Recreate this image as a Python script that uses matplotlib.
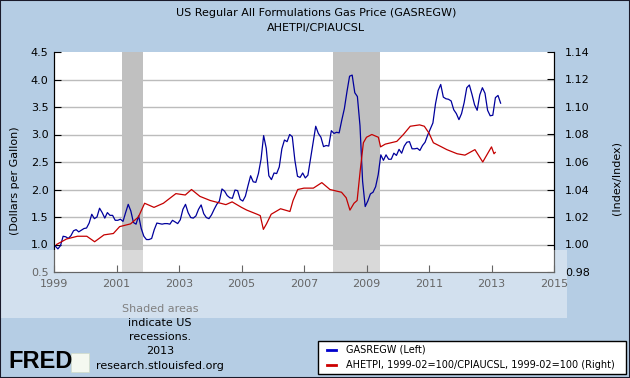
import matplotlib
matplotlib.use('Agg')
import matplotlib.pyplot as plt
from matplotlib.patches import Rectangle
import numpy as np

# GASREGW, monthly (dollars per gallon), Jan 1999 - Apr 2013
gas_1999 = [0.97, 0.92, 0.98, 1.15, 1.14, 1.11, 1.16, 1.25, 1.27, 1.23, 1.26, 1.29]
gas_2000 = [1.30, 1.39, 1.55, 1.47, 1.50, 1.66, 1.58, 1.48, 1.58, 1.53, 1.53, 1.44]
gas_2001 = [1.44, 1.46, 1.42, 1.58, 1.73, 1.61, 1.40, 1.37, 1.52, 1.29, 1.15, 1.09]
gas_2002 = [1.09, 1.11, 1.27, 1.39, 1.38, 1.37, 1.38, 1.38, 1.37, 1.44, 1.41, 1.38]
gas_2003 = [1.45, 1.64, 1.73, 1.58, 1.49, 1.48, 1.52, 1.64, 1.72, 1.56, 1.49, 1.47]
gas_2004 = [1.54, 1.64, 1.73, 1.79, 2.01, 1.97, 1.89, 1.85, 1.84, 1.99, 1.98, 1.82]
gas_2005 = [1.79, 1.88, 2.07, 2.25, 2.14, 2.13, 2.29, 2.55, 2.98, 2.75, 2.25, 2.18]
gas_2006 = [2.30, 2.29, 2.41, 2.74, 2.90, 2.87, 3.00, 2.96, 2.53, 2.24, 2.22, 2.30]
gas_2007 = [2.21, 2.26, 2.56, 2.87, 3.15, 3.02, 2.95, 2.78, 2.80, 2.79, 3.07, 3.02]
gas_2008 = [3.04, 3.03, 3.26, 3.47, 3.78, 4.06, 4.08, 3.76, 3.69, 3.16, 2.15, 1.69]
gas_2009 = [1.79, 1.92, 1.95, 2.05, 2.27, 2.63, 2.53, 2.63, 2.55, 2.55, 2.66, 2.62]
gas_2010 = [2.73, 2.66, 2.79, 2.86, 2.87, 2.74, 2.74, 2.75, 2.71, 2.80, 2.86, 2.99]
gas_2011 = [3.10, 3.21, 3.56, 3.80, 3.91, 3.68, 3.65, 3.64, 3.61, 3.45, 3.38, 3.27]
gas_2012 = [3.38, 3.58, 3.85, 3.90, 3.73, 3.54, 3.44, 3.72, 3.85, 3.75, 3.44, 3.34]
gas_2013 = [3.35, 3.67, 3.71, 3.57]

gas = (gas_1999 + gas_2000 + gas_2001 + gas_2002 + gas_2003 + gas_2004 + gas_2005
       + gas_2006 + gas_2007 + gas_2008 + gas_2009 + gas_2010 + gas_2011 + gas_2012 + gas_2013)
gas_t = 1999 + (np.arange(len(gas)) + 0.5) / 12

# AHETPI/CPIAUCSL (1999-02=100)
ratio_t = [1999.08, 1999.4, 1999.75, 2000.05, 2000.3, 2000.6, 2000.9, 2001.1, 2001.45,
           2001.7, 2001.9, 2002.2, 2002.5, 2002.9, 2003.2, 2003.4, 2003.67, 2004.0,
           2004.5, 2004.7, 2005.0, 2005.17, 2005.5, 2005.6, 2005.7, 2005.8, 2005.95,
           2006.25, 2006.55, 2006.65, 2006.8, 2007.0, 2007.3, 2007.57, 2007.83, 2008.2,
           2008.35, 2008.47, 2008.6, 2008.7, 2008.8, 2008.9, 2009.0, 2009.17, 2009.38,
           2009.45, 2009.6, 2009.97, 2010.18, 2010.4, 2010.7, 2010.85, 2011.0, 2011.14,
           2011.4, 2011.57, 2011.9, 2012.15, 2012.47, 2012.72, 2013.0, 2013.08, 2013.12]
ratio = [1.000, 1.004, 1.006, 1.006, 1.002, 1.007, 1.008, 1.013, 1.015,
         1.020, 1.030, 1.027, 1.030, 1.037, 1.036, 1.040, 1.035, 1.032,
         1.029, 1.031, 1.027, 1.025, 1.022, 1.021, 1.011, 1.015, 1.022,
         1.026, 1.024, 1.032, 1.040, 1.041, 1.041, 1.045, 1.040, 1.038,
         1.034, 1.025, 1.030, 1.032, 1.054, 1.074, 1.078, 1.080, 1.078,
         1.071, 1.073, 1.075, 1.080, 1.086, 1.087, 1.086, 1.081, 1.074,
         1.071, 1.069, 1.066, 1.065, 1.069, 1.060, 1.071, 1.066, 1.067]

recessions = [(2001.167, 2001.833), (2007.917, 2009.417)]
xticks = list(range(1999, 2016, 2))
left_ticks = [0.5, 1.0, 1.5, 2.0, 2.5, 3.0, 3.5, 4.0, 4.5]
right_ticks = [0.98, 1.00, 1.02, 1.04, 1.06, 1.08, 1.10, 1.12, 1.14]

bg = '#b5cde4'
fig = plt.figure(figsize=(6.3, 3.78), dpi=100, facecolor=bg)
ax = fig.add_axes([54/630, 1 - 272/378, 500/630, 220/378])
ax.set_facecolor('white')

for a, b in recessions:
    ax.axvspan(a, b, color='#c0c0c0', zorder=1, lw=0)
for v in left_ticks[1:-1]:
    ax.axhline(v, color='#bcbcbc', lw=1, zorder=0.5)

ax.plot(gas_t, gas, color='#00009c', lw=0.9, zorder=3)
ax.set_xlim(1999, 2015)
ax.set_ylim(0.5, 4.5)
ax.set_xticks(xticks)
ax.set_yticks(left_ticks)
ax.set_yticklabels(['%.1f' % v for v in left_ticks])
ax.tick_params(direction='in', length=5, labelsize=8, pad=4, color='black')
ax.tick_params(axis='x', pad=5)
ax.spines['top'].set_visible(False)

ax2 = ax.twinx()
ax2.plot(ratio_t, ratio, color='#c40000', lw=0.9, zorder=3)
ax2.set_ylim(0.98, 1.14)
ax2.set_yticks(right_ticks)
ax2.set_yticklabels(['%.2f' % v for v in right_ticks])
ax2.tick_params(direction='in', length=5, labelsize=8, pad=8)
ax2.spines['top'].set_visible(False)

fig.text(316/630, 1 - 13/378, 'US Regular All Formulations Gas Price (GASREGW)',
         ha='center', va='center', fontsize=8)
fig.text(316/630, 1 - 28/378, 'AHETPI/CPIAUCSL', ha='center', va='center', fontsize=8)
fig.text(15/630, 1 - 181/378, '(Dollars per Gallon)', rotation=90,
         ha='center', va='center', fontsize=8)
fig.text(617/630, 1 - 178/378, '(Index/Index)', rotation=90,
         ha='center', va='center', fontsize=8)

# overlay band across the lower part of the chart
fig.patches.append(Rectangle((0, 1 - 318/378), 567/630, 68/378, transform=fig.transFigure,
                             facecolor='white', alpha=0.4, lw=0, zorder=10))

foot = ['Shaded areas', 'indicate US', 'recessions.', '2013', 'research.stlouisfed.org']
foot_y = [309, 323, 337, 351, 366]
for s, y in zip(foot, foot_y):
    fig.text(160/630, 1 - y/378, s, ha='center', va='center', fontsize=8,
             color='#808080' if y < 315 else 'black', zorder=11)

fig.text(8/630, 1 - 362/378, 'FRED', family='Liberation Sans', weight='bold',
         fontsize=17, ha='left', va='center')
fig.patches.append(Rectangle((71/630, 1 - 372/378), 18/630, 19/378, transform=fig.transFigure,
                             facecolor='#f4f8f0', edgecolor='#d0dcc8', lw=0.5))

# legend box
fig.patches.append(Rectangle((318/630, 1 - 374/378), 308/630, 33/378, transform=fig.transFigure,
                             facecolor='white', edgecolor='black', lw=1))
legend_items = [('GASREGW (Left)', '#0000cc'),
                ('AHETPI, 1999-02=100/CPIAUCSL, 1999-02=100 (Right)', '#cc0000')]
for i, (lab, col) in enumerate(legend_items):
    y = 1 - (350 + 15 * i) / 378
    fig.lines.append(plt.Line2D([327/630, 336/630], [y, y], transform=fig.transFigure,
                                color=col, lw=2))
    fig.text(346/630, y, lab, ha='left', va='center', fontsize=7)

fig.patches.append(Rectangle((0, 0), 1, 1, transform=fig.transFigure, facecolor='none',
                             edgecolor='#1a1a2a', lw=1.5, zorder=20))

fig.savefig('out.png', dpi=100, facecolor=bg)
